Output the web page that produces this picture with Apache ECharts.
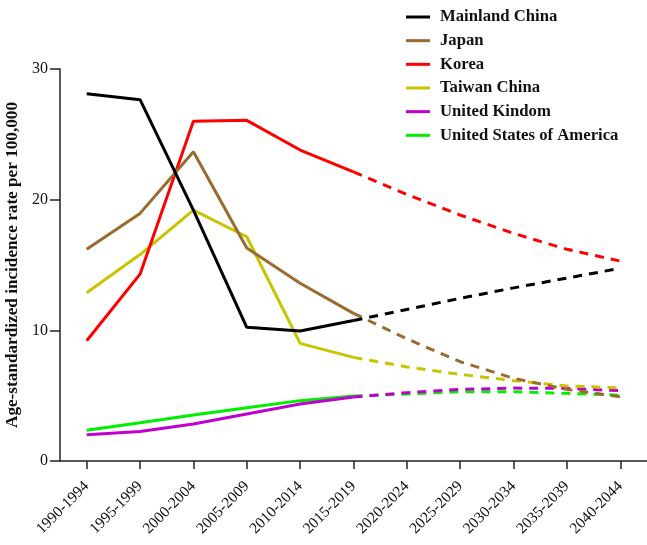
<!DOCTYPE html>
<html><head><meta charset="utf-8">
<script src="https://cdn.jsdelivr.net/npm/echarts@6/dist/echarts.min.js"></script>
<style>html,body{margin:0;padding:0;background:#fff}#c{width:647px;height:545px}</style>
</head><body><div id="c"></div>
<script>
var categories = ['1990-1994','1995-1999','2000-2004','2005-2009','2010-2014','2015-2019','2020-2024','2025-2029','2030-2034','2035-2039','2040-2044'];
var countries = ['Mainland China','Japan','Korea','Taiwan China','United Kindom','United States of America'];
var colors = ['#000000','#9a6a2e','#ff0000','#c8c400','#c000d0','#00ee00'];
var mainlandChina = [28.1, 27.65, 19.2, 10.23, 9.95, 10.75, 11.6, 12.45, 13.25, 14.0, 14.75];
var japan        = [16.2, 18.95, 23.67, 16.3, 13.6, 11.3, 9.35, 7.6, 6.33, 5.48, 4.92];
var korea        = [9.2, 14.3, 26.0, 26.07, 23.8, 22.12, 20.4, 18.82, 17.42, 16.2, 15.3];
var taiwanChina  = [12.88, 15.8, 19.2, 17.16, 9.0, 7.93, 7.2, 6.63, 6.15, 5.74, 5.6];
var unitedKingdom= [2.0, 2.25, 2.83, 3.6, 4.36, 4.9, 5.23, 5.48, 5.58, 5.56, 5.38];
var unitedStates = [2.35, 2.93, 3.52, 4.08, 4.62, 4.97, 5.13, 5.3, 5.3, 5.18, 5.03];
var yTicks = [0, 10, 20, 30];
var splitIndex = 5; // observed up to 2015-2019, projected afterwards

var allData = [mainlandChina, japan, korea, taiwanChina, unitedKingdom, unitedStates];
var series = [];
countries.forEach(function(name, k){
  var d = allData[k];
  var solid = d.map(function(v, i){ return i <= splitIndex ? v : null; });
  var dashed = d.map(function(v, i){ return i >= splitIndex ? v : null; });
  series.push({name: name, type: 'line', data: solid, showSymbol: false, symbol: 'none', connectNulls: false,
    lineStyle: {color: colors[k], width: 3, type: 'solid'}, itemStyle: {color: colors[k]}, z: 10 - k});
  series.push({name: name, type: 'line', data: dashed, showSymbol: false, symbol: 'none', connectNulls: false,
    lineStyle: {color: colors[k], width: 3, type: [9, 7]}, itemStyle: {color: colors[k]}, z: 10 - k});
});

var chart = echarts.init(document.getElementById('c'), null, {renderer: 'canvas'});
chart.setOption({
  animation: false,
  backgroundColor: '#fff',
  grid: {left: 60, right: 0, top: 69, bottom: 84, containLabel: false, outerBoundsMode: 'none'},
  legend: {
    orient: 'vertical', left: 401, top: 3,
    data: countries,
    icon: 'rect', itemWidth: 24, itemHeight: 3, itemGap: 5.66,
    textStyle: {fontFamily: 'Liberation Serif', fontWeight: 'bold', fontSize: 16.7, color: '#111', lineHeight: 18, padding: [0,0,0,5]}
  },
  xAxis: {
    type: 'category', data: categories, boundaryGap: true,
    splitLine: {show: false},
    axisLine: {show: true, onZero: false, lineStyle: {color: '#222', width: 1.5}},
    axisTick: {show: true, alignWithLabel: true, length: 8, lineStyle: {color: '#222', width: 1.5}},
    axisLabel: {interval: 0, rotate: 45, fontFamily: 'Liberation Serif', fontSize: 15.5, color: '#111', margin: 23}
  },
  yAxis: {
    type: 'value', min: 0, max: 30, interval: 10,
    name: 'Age-standardized incidence rate per 100,000',
    nameLocation: 'middle', nameGap: 30,
    nameTextStyle: {fontFamily: 'Liberation Serif', fontWeight: 'bold', fontSize: 17.2, color: '#111'},
    splitLine: {show: false},
    axisLine: {show: true, onZero: false, lineStyle: {color: '#222', width: 1.5}},
    axisTick: {show: true, length: 10, lineStyle: {color: '#222', width: 1.5}},
    axisLabel: {fontFamily: 'Liberation Serif', fontSize: 16, color: '#111', margin: 12,
      formatter: function(v){ return yTicks.indexOf(v) >= 0 ? String(v) : ''; }}
  },
  series: series
});
</script></body></html>
